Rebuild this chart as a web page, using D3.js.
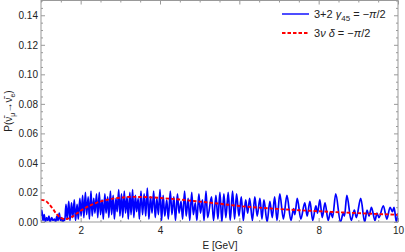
<!DOCTYPE html>
<html>
<head>
<meta charset="utf-8">
<script src="https://cdn.jsdelivr.net/npm/d3@7"></script>
<style>
  body { margin: 0; background: #fff; }
  svg { font-family: "Liberation Sans", Arial, sans-serif; }
</style>
</head>
<body>
<svg width="405" height="252"></svg>
<script>
// tick values
const xTicks = [2, 4, 6, 8, 10];
const yTicks = [0, 0.02, 0.04, 0.06, 0.08, 0.1, 0.12, 0.14];

// 3nu, delta = -pi/2 (smooth red dashed curve)
const redE = [1.0, 1.1, 1.2, 1.3, 1.4, 1.5, 1.6, 1.7, 1.8, 1.9, 2.0, 2.2, 2.4, 2.6, 2.8, 3.0,
  3.3, 3.6, 4.0, 4.5, 5.0, 5.5, 6.0, 6.5, 7.0, 7.5, 8.0, 8.5, 9.0, 9.5, 10.0];
const redP = [0.0150, 0.0145, 0.0122, 0.0088, 0.0052, 0.0028, 0.0020, 0.0025, 0.0038, 0.0057,
  0.0076, 0.0107, 0.0130, 0.0146, 0.0158, 0.0165, 0.0170, 0.0169, 0.0163, 0.0152, 0.0138,
  0.0124, 0.0108, 0.0097, 0.0088, 0.0080, 0.0073, 0.0066, 0.0060, 0.0054, 0.0049];

// 3+2, gamma45 = -pi/2 (fast oscillating blue curve), [E, P]
const blue = [
  [1.00, 0.004], [1.02, 0.008], [1.05, 0.001], [1.08, 0.005], [1.11, 0.000], [1.14, 0.003],
  [1.17, 0.001], [1.20, 0.004], [1.23, 0.000], [1.27, 0.003], [1.30, 0.001], [1.34, 0.002],
  [1.37, 0.000], [1.40, 0.004], [1.43, 0.001], [1.46, 0.006], [1.49, 0.001], [1.52, 0.003],
  [1.55, 0.000], [1.58, 0.002], [1.60, 0.001],
  [1.63, 0.012], [1.66, 0.002], [1.70, 0.014], [1.73, 0.001], [1.77, 0.013], [1.80, 0.003],
  [1.84, 0.015], [1.87, 0.001], [1.91, 0.012], [1.94, 0.002], [1.98, 0.016], [2.01, 0.004],
  [2.05, 0.018], [2.08, 0.003], [2.12, 0.020], [2.15, 0.005], [2.19, 0.017], [2.22, 0.002],
  [2.26, 0.021], [2.29, 0.004], [2.33, 0.016], [2.36, 0.006], [2.40, 0.019], [2.43, 0.003],
  [2.47, 0.020], [2.50, 0.005], [2.54, 0.015], [2.57, 0.002], [2.61, 0.019], [2.64, 0.006],
  [2.68, 0.017], [2.71, 0.003], [2.75, 0.021], [2.78, 0.005], [2.82, 0.018], [2.85, 0.002],
  [2.89, 0.016], [2.92, 0.007], [2.96, 0.022], [2.99, 0.004], [3.03, 0.019], [3.06, 0.003],
  [3.10, 0.021], [3.13, 0.006], [3.17, 0.017], [3.20, 0.002], [3.24, 0.020], [3.27, 0.005],
  [3.31, 0.022], [3.34, 0.003], [3.38, 0.018], [3.41, 0.007], [3.45, 0.016], [3.48, 0.002],
  [3.52, 0.021], [3.56, 0.005], [3.60, 0.019], [3.64, 0.004], [3.68, 0.023], [3.72, 0.002],
  [3.76, 0.017], [3.80, 0.006], [3.84, 0.021], [3.88, 0.003], [3.92, 0.016], [3.96, 0.005],
  [4.00, 0.022], [4.04, 0.001], [4.08, 0.018], [4.12, 0.004], [4.17, 0.015], [4.21, 0.002],
  [4.26, 0.021], [4.30, 0.005], [4.35, 0.017], [4.39, 0.001], [4.44, 0.019], [4.48, 0.006],
  [4.53, 0.014], [4.57, 0.002], [4.62, 0.021], [4.66, 0.004], [4.71, 0.016], [4.75, 0.001],
  [4.80, 0.020], [4.84, 0.005], [4.89, 0.013], [4.93, 0.001], [4.98, 0.019], [5.02, 0.006],
  [5.07, 0.015], [5.11, 0.001], [5.16, 0.021], [5.20, 0.003],
  [5.30, 0.017], [5.35, 0.001], [5.41, 0.018], [5.46, 0.002], [5.51, 0.020], [5.56, 0.000],
  [5.61, 0.019], [5.66, 0.003], [5.72, 0.020], [5.77, 0.001], [5.83, 0.021], [5.88, 0.002],
  [5.93, 0.019], [5.99, 0.004], [6.05, 0.017], [6.10, 0.001], [6.16, 0.015], [6.21, 0.006],
  [6.26, 0.016], [6.33, 0.001], [6.39, 0.017], [6.45, 0.004], [6.52, 0.016], [6.57, 0.002],
  [6.62, 0.015], [6.70, 0.000], [6.77, 0.014], [6.83, 0.003], [6.89, 0.017], [6.95, 0.001],
  [7.02, 0.019], [7.11, 0.002], [7.20, 0.018], [7.30, 0.001], [7.37, 0.009], [7.40, 0.005],
  [7.46, 0.016], [7.55, 0.002], [7.65, 0.013], [7.71, 0.004], [7.78, 0.014], [7.85, 0.001],
  [7.93, 0.011], [7.97, 0.006], [8.03, 0.015], [8.09, 0.003], [8.16, 0.013], [8.24, 0.001],
  [8.30, 0.007], [8.35, 0.003], [8.43, 0.019], [8.55, 0.000], [8.62, 0.006], [8.65, 0.004],
  [8.71, 0.018], [8.82, 0.001], [8.90, 0.008], [8.95, 0.003], [9.06, 0.016], [9.16, 0.000],
  [9.22, 0.008], [9.27, 0.004], [9.33, 0.010], [9.42, 0.001], [9.47, 0.006], [9.52, 0.003],
  [9.63, 0.011], [9.72, 0.002], [9.80, 0.010], [9.86, 0.007], [9.90, 0.010], [9.96, 0.000],
  [10.0, 0.006]
];

const svg = d3.select("svg");
const frameColor = "#999";
const textColor = "#222";

const x = d3.scaleLinear().domain([1, 10]).range([41, 398]);
const y = d3.scaleLinear().domain([0, 0.15]).range([222, 0.5]);

const xMinor = d3.range(1, 10.01, 0.5).filter(v => !xTicks.includes(v));
const yMinor = d3.range(0, 0.1501, 0.005).filter(v => Math.abs(Math.round(v / 0.02) * 0.02 - v) > 1e-6);

function styleAxis(g) {
  g.select(".domain").remove();
  g.selectAll(".tick line").attr("stroke", frameColor);
  g.selectAll(".tick text").attr("fill", textColor).attr("font-size", 10)
    .attr("font-family", "Liberation Sans, Arial, sans-serif");
}

// major + minor ticks on all four sides (pointing inward)
svg.append("g").attr("transform", "translate(0,222)")
  .call(d3.axisBottom(x).tickValues(xTicks).tickFormat(d3.format("d")).tickSize(-4).tickPadding(5))
  .call(styleAxis);
svg.append("g").attr("transform", "translate(0,222)")
  .call(d3.axisBottom(x).tickValues(xMinor).tickFormat("").tickSize(-2)).call(styleAxis);
svg.append("g").attr("transform", "translate(0,0.5)")
  .call(d3.axisTop(x).tickValues(xTicks).tickFormat("").tickSize(-4)).call(styleAxis);
svg.append("g").attr("transform", "translate(0,0.5)")
  .call(d3.axisTop(x).tickValues(xMinor).tickFormat("").tickSize(-2)).call(styleAxis);

svg.append("g").attr("transform", "translate(41,0)")
  .call(d3.axisLeft(y).tickValues(yTicks).tickFormat(d3.format(".2f")).tickSize(-4).tickPadding(3))
  .call(styleAxis);
svg.append("g").attr("transform", "translate(41,0)")
  .call(d3.axisLeft(y).tickValues(yMinor).tickFormat("").tickSize(-2)).call(styleAxis);
svg.append("g").attr("transform", "translate(398,0)")
  .call(d3.axisRight(y).tickValues(yTicks).tickFormat("").tickSize(-4)).call(styleAxis);
svg.append("g").attr("transform", "translate(398,0)")
  .call(d3.axisRight(y).tickValues(yMinor).tickFormat("").tickSize(-2)).call(styleAxis);

// clip to plot area
svg.append("clipPath").attr("id", "plotClip")
  .append("rect").attr("x", 41).attr("y", 0).attr("width", 357).attr("height", 222);

const plot = svg.append("g").attr("clip-path", "url(#plotClip)");

const blueLine = d3.line()
  .x(d => x(d[0]))
  .y(d => y(d[1]))
  .curve(d3.curveMonotoneX);

plot.append("path")
  .datum(blue)
  .attr("d", blueLine)
  .attr("fill", "none")
  .attr("stroke", "#0000ff")
  .attr("stroke-width", 1.7)
  .attr("stroke-linejoin", "round");

const redLine = d3.line()
  .x((d, i) => x(redE[i]))
  .y(d => y(d))
  .curve(d3.curveMonotoneX);

plot.append("path")
  .datum(redP)
  .attr("d", redLine)
  .attr("fill", "none")
  .attr("stroke", "#ff0000")
  .attr("stroke-width", 1.9)
  .attr("stroke-dasharray", "3.5,2");

// frame
svg.append("rect")
  .attr("x", 41).attr("y", 0.5)
  .attr("width", 357).attr("height", 221.5)
  .attr("fill", "none")
  .attr("stroke", frameColor)
  .attr("stroke-width", 1);

// axis labels
svg.append("text")
  .attr("x", 220).attr("y", 249)
  .attr("text-anchor", "middle")
  .attr("font-size", 10)
  .attr("fill", textColor)
  .text("E [GeV]");

const yLab = svg.append("text")
  .attr("transform", "translate(12,111) rotate(-90)")
  .attr("text-anchor", "middle")
  .attr("font-size", 10)
  .attr("fill", textColor);
yLab.append("tspan").text("P(\u03bd\u0304");
yLab.append("tspan").attr("font-size", 7).attr("dy", 2.5).text("\u03bc");
yLab.append("tspan").attr("dy", -2.5).text("\u2192\u03bd\u0304");
yLab.append("tspan").attr("font-size", 7).attr("dy", 2.5).text("e");
yLab.append("tspan").attr("dy", -2.5).text(")");

// legend
const legend = svg.append("g").attr("font-size", 11).attr("fill", textColor);
legend.append("line")
  .attr("x1", 282).attr("x2", 309).attr("y1", 14).attr("y2", 14)
  .attr("stroke", "#0000ff").attr("stroke-width", 1.4);
legend.append("line")
  .attr("x1", 282).attr("x2", 309).attr("y1", 33).attr("y2", 33)
  .attr("stroke", "#ff0000").attr("stroke-width", 1.8).attr("stroke-dasharray", "3.5,2");

const l1 = legend.append("text").attr("x", 314).attr("y", 18);
l1.append("tspan").text("3+2 ");
l1.append("tspan").attr("font-style", "italic").text("\u03b3");
l1.append("tspan").attr("font-size", 8).attr("dy", 2.5).text("45");
l1.append("tspan").attr("dy", -2.5).text(" = \u2212");
l1.append("tspan").attr("font-style", "italic").text("\u03c0");
l1.append("tspan").text("/2");

const l2 = legend.append("text").attr("x", 314).attr("y", 37);
l2.append("tspan").text("3");
l2.append("tspan").attr("font-style", "italic").text("\u03bd \u03b4");
l2.append("tspan").text(" = \u2212");
l2.append("tspan").attr("font-style", "italic").text("\u03c0");
l2.append("tspan").text("/2");
</script>
</body>
</html>
